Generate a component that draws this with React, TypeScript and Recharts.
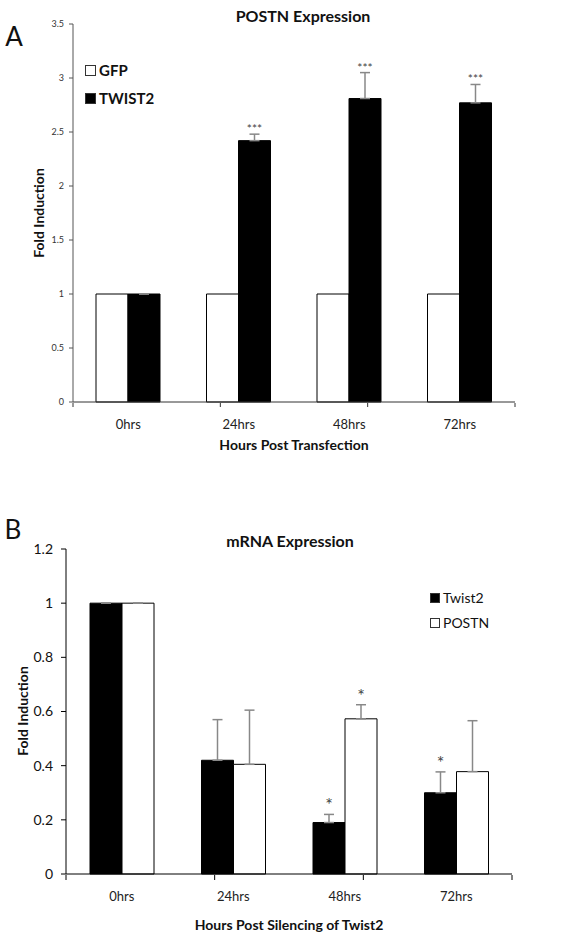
import React from "react"
import { BarChart, Bar, XAxis, YAxis, ErrorBar, LabelList, Legend } from "recharts"

const hours = ["0hrs", "24hrs", "48hrs", "72hrs"]
const edgeTicks = [0, 1, 2, 3, 4]

// panel A: POSTN expression after TWIST2 transfection
const gfpA = [1, 1, 1, 1]
const twist2A = [1, 2.42, 2.81, 2.77]
const twist2AErr = [0, 0.06, 0.24, 0.17]
const twist2AStars = ["", "***", "***", "***"]
const ticksA = [0, 0.5, 1, 1.5, 2, 2.5, 3, 3.5]
const legendA = ["GFP", "TWIST2"]

// panel B: mRNA expression after Twist2 silencing
const twist2B = [1, 0.42, 0.19, 0.3]
const twist2BErr = [0, 0.15, 0.03, 0.077]
const twist2BStars = ["", "", "*", "*"]
const postnB = [1, 0.405, 0.573, 0.378]
const postnBErr = [0, 0.2, 0.052, 0.188]
const postnBStars = ["", "", "*", ""]
const ticksB = [0, 0.2, 0.4, 0.6, 0.8, 1, 1.2]
const legendB = ["Twist2", "POSTN"]

const font = "Lato, 'Open Sans', sans-serif"

const dataA = hours.map((h, i) => ({
  hour: h,
  i,
  gfp: gfpA[i],
  twist2: twist2A[i],
  twist2Err: [0, twist2AErr[i]],
}))

const dataB = hours.map((h, i) => ({
  hour: h,
  i,
  twist2: twist2B[i],
  twist2Err: [0, twist2BErr[i]],
  postn: postnB[i],
  postnErr: [0, postnBErr[i]],
}))

// draws the significance stars just above the top of the error bar
const stars = (values: number[], errs: number[], marks: string[], fontSize: number, lift: number) =>
  (props: any) => {
    const vb = props.viewBox ?? props
    const i = Number(props.value)
    if (!marks[i]) return null
    const { x, y, width, height } = vb
    const top = y - errs[i] * (height / values[i])
    return (
      <text x={x + width / 2} y={top - lift} textAnchor="middle" fontSize={fontSize} fill="#444" fontFamily={font}>
        {marks[i]}
      </text>
    )
  }

const legendBox = (order: string[], size: number, rowH: number, bold: boolean, fontSize: number) => (props: any) => {
  const items = [...(props.payload || [])].sort((a: any, b: any) => order.indexOf(a.value) - order.indexOf(b.value))
  return (
    <div style={{ fontFamily: font, fontWeight: bold ? 700 : 400, fontSize, color: "#111" }}>
      {items.map((p: any) => (
        <div key={p.value} style={{ display: "flex", alignItems: "center", height: rowH }}>
          <span
            style={{
              display: "inline-block",
              width: size,
              height: size,
              background: p.color,
              border: "1px solid #333",
              boxSizing: "border-box",
              marginRight: 3,
            }}
          />
          {p.value}
        </div>
      ))}
    </div>
  )
}

const noTick = () => <g />

const abs = (left: number, top: number, style: React.CSSProperties = {}): React.CSSProperties => ({
  position: "absolute",
  left,
  top,
  transform: "translate(-50%, -50%)",
  whiteSpace: "nowrap",
  fontFamily: font,
  color: "#111",
  ...style,
})

export default function App() {
  return (
    <div style={{ position: "absolute", left: 0, top: 0, width: 579, height: 939, background: "#fff" }}>
      <div style={{ position: "absolute", left: 0, top: 0 }}>
        <BarChart width={579} height={470} data={dataA} margin={{ top: 24, right: 64, bottom: 66, left: 33 }} barGap={0}>
          <XAxis
            dataKey="hour"
            height={1}
            tickLine={false}
            axisLine={{ stroke: "#333" }}
            tickMargin={12}
            tick={{ fontSize: 13, fill: "#222", fontFamily: font }}
          />
          <XAxis
            xAxisId="edge"
            type="number"
            domain={[0, 4]}
            ticks={edgeTicks}
            allowDataOverflow
            height={1}
            tick={noTick}
            tickSize={4}
            tickLine={{ stroke: "#333" }}
            axisLine={false}
          />
          <YAxis
            width={40}
            domain={[0, 3.5]}
            ticks={ticksA}
            tickSize={4}
            tickMargin={5}
            stroke="#555"
            tick={{ fontSize: 9, fill: "#333", fontFamily: font }}
          />
          <Legend
            layout="vertical"
            align="center"
            verticalAlign="middle"
            wrapperStyle={{ left: 85, top: 56, width: "auto" }}
            content={legendBox(legendA, 11, 28, true, 15)}
          />
          <Bar dataKey="gfp" name="GFP" fill="#fff" stroke="#000" strokeWidth={1} barSize={32} isAnimationActive={false} />
          <Bar dataKey="twist2" name="TWIST2" fill="#000" stroke="#000" strokeWidth={1} barSize={32} isAnimationActive={false}>
            <ErrorBar dataKey="twist2Err" width={5} stroke="#888" strokeWidth={1.5} />
            <LabelList dataKey="i" content={stars(twist2A, twist2AErr, twist2AStars, 12, 1)} />
          </Bar>
        </BarChart>
      </div>

      <div style={{ position: "absolute", left: 0, top: 480 }}>
        <BarChart width={579} height={459} data={dataB} margin={{ top: 69, right: 67, bottom: 63, left: 21 }} barGap={0}>
          <XAxis
            dataKey="hour"
            height={1}
            tickLine={false}
            axisLine={{ stroke: "#000" }}
            tickMargin={12}
            tick={{ fontSize: 13, fill: "#222", fontFamily: font }}
          />
          <XAxis
            xAxisId="edge"
            type="number"
            domain={[0, 4]}
            ticks={edgeTicks}
            allowDataOverflow
            height={1}
            tick={noTick}
            tickSize={5}
            tickLine={{ stroke: "#000" }}
            axisLine={false}
          />
          <YAxis
            width={45}
            domain={[0, 1.2]}
            ticks={ticksB}
            tickSize={5}
            tickMargin={8}
            stroke="#000"
            tick={{ fontSize: 14, fill: "#111", fontFamily: font }}
          />
          <Legend
            layout="vertical"
            align="center"
            verticalAlign="middle"
            wrapperStyle={{ left: 430, top: 105, width: "auto" }}
            content={legendBox(legendB, 10, 25, false, 14)}
          />
          <Bar dataKey="twist2" name="Twist2" fill="#000" stroke="#000" strokeWidth={1} barSize={32} isAnimationActive={false}>
            <ErrorBar dataKey="twist2Err" width={5} stroke="#888" strokeWidth={1.5} />
            <LabelList dataKey="i" content={stars(twist2B, twist2BErr, twist2BStars, 18, 3)} />
          </Bar>
          <Bar dataKey="postn" name="POSTN" fill="#fff" stroke="#000" strokeWidth={1} barSize={32} isAnimationActive={false}>
            <ErrorBar dataKey="postnErr" width={5} stroke="#888" strokeWidth={1.5} />
            <LabelList dataKey="i" content={stars(postnB, postnBErr, postnBStars, 18, 3)} />
          </Bar>
        </BarChart>
      </div>

      <div style={abs(14, 36, { fontSize: 26 })}>A</div>
      <div style={abs(303, 15, { fontSize: 16, fontWeight: 700 })}>POSTN Expression</div>
      <div style={abs(38, 213, { fontSize: 14, fontWeight: 700, transform: "translate(-50%, -50%) rotate(-90deg)" })}>
        Fold Induction
      </div>
      <div style={abs(294, 444, { fontSize: 14, fontWeight: 700 })}>Hours Post Transfection</div>

      <div style={abs(13, 529, { fontSize: 26 })}>B</div>
      <div style={abs(290, 540, { fontSize: 16, fontWeight: 700 })}>mRNA Expression</div>
      <div style={abs(22, 711, { fontSize: 14, fontWeight: 700, transform: "translate(-50%, -50%) rotate(-90deg)" })}>
        Fold Induction
      </div>
      <div style={abs(289, 924, { fontSize: 14, fontWeight: 700 })}>Hours Post Silencing of Twist2</div>
    </div>
  )
}
